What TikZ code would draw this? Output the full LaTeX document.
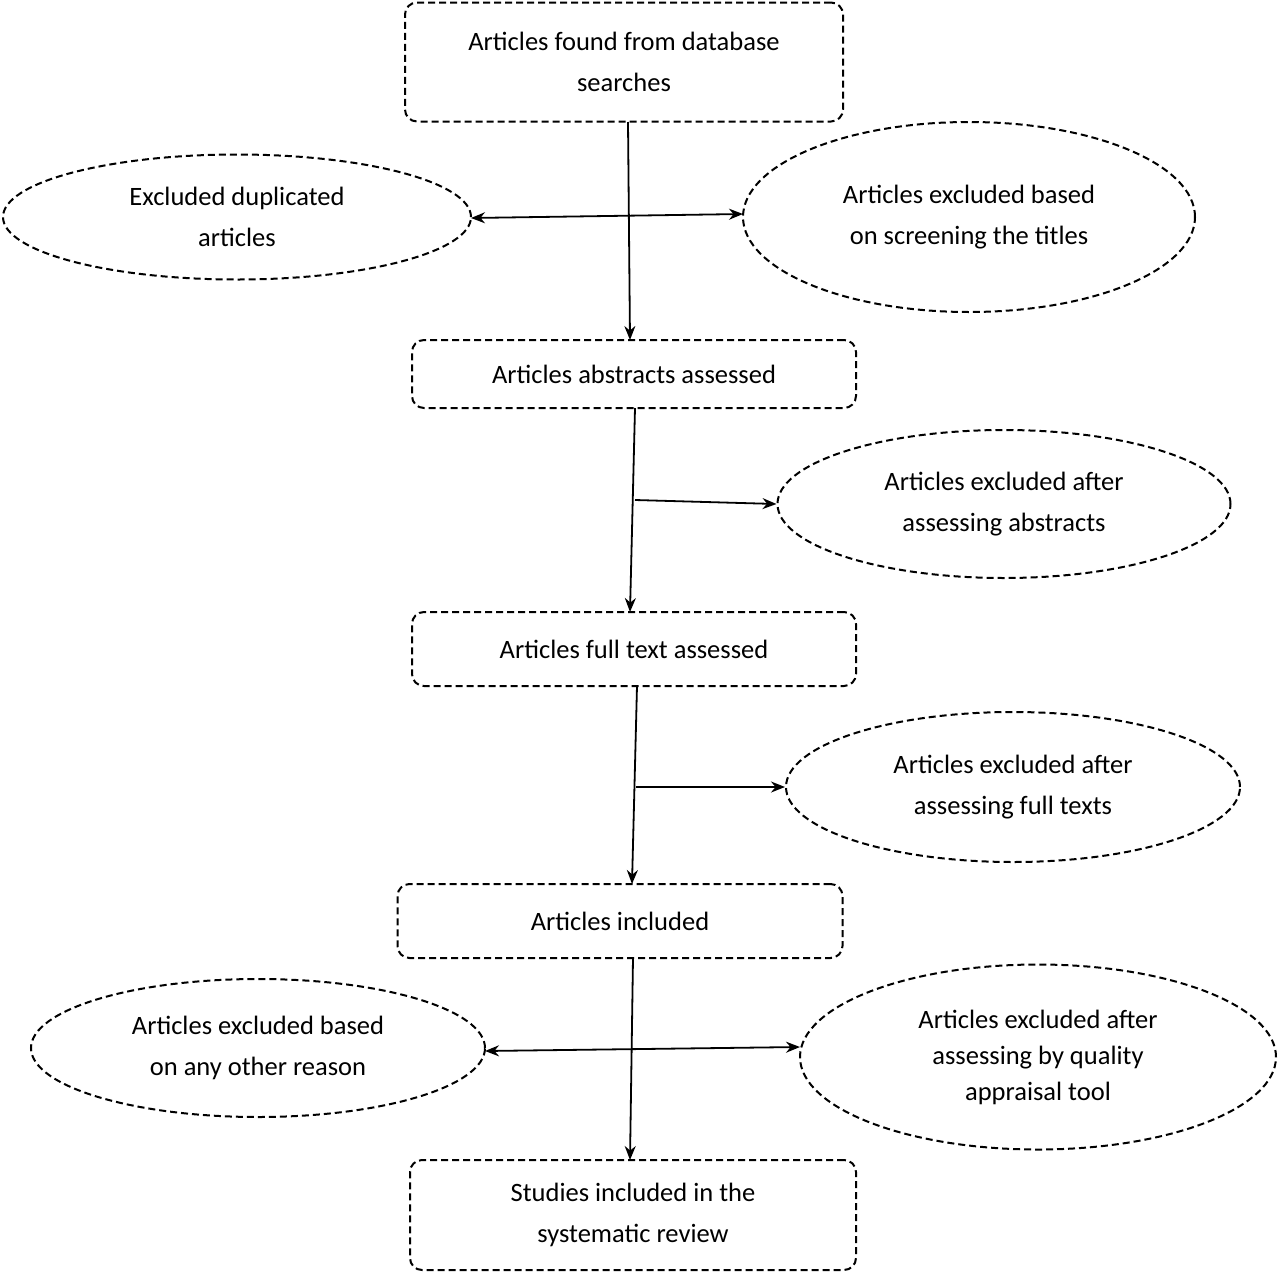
\documentclass[tikz,border=0pt]{standalone}
\usepackage{fontspec}
\setmainfont{Carlito}
\usetikzlibrary{shapes.geometric,arrows.meta}
\begin{document}
\begin{tikzpicture}[x=1pt,y=-1pt,
  every node/.style={font=\fontsize{26.5}{41}\selectfont,align=center,line width=2pt,dash pattern=on 7pt off 4pt,draw,inner sep=0pt},
  box/.style={rounded corners=12pt},
  ell/.style={ellipse},
  arr/.style={-{Stealth[length=14pt,width=11pt]},line width=1.8pt,solid},
  dbl/.style={{Stealth[length=14pt,width=11pt]}-{Stealth[length=14pt,width=11pt]},line width=1.8pt,solid}]
\useasboundingbox (0,0) rectangle (1280,1275);
\node[box,minimum width=438pt,minimum height=119pt] (a) at (624,62) {Articles found from database\\searches};
\node[ell,minimum width=468pt,minimum height=125pt] (b) at (237,217) {Excluded duplicated\\articles};
\node[ell,minimum width=452pt,minimum height=190pt] (c) at (969,217) {Articles excluded based\\on screening the titles};
\node[box,minimum width=444pt,minimum height=68pt] (d) at (634,374) {Articles abstracts assessed};
\node[ell,minimum width=453pt,minimum height=148pt] (e) at (1004,504) {Articles excluded after\\assessing abstracts};
\node[box,minimum width=444pt,minimum height=74pt] (f) at (634,649) {Articles full text assessed};
\node[ell,minimum width=454pt,minimum height=150pt] (g) at (1013,787) {Articles excluded after\\assessing full texts};
\node[box,minimum width=445pt,minimum height=74pt] (h) at (620,921) {Articles included};
\node[ell,minimum width=454pt,minimum height=138pt] (i) at (258,1048) {Articles excluded based\\on any other reason};
\node[ell,minimum width=476pt,minimum height=185pt,font=\fontsize{26.5}{36}\selectfont] (j) at (1038,1057) {Articles excluded after\\assessing by quality\\appraisal tool};
\node[box,minimum width=446pt,minimum height=110pt] (k) at (633,1215) {Studies included in the\\systematic review};
\coordinate (a1) at (628,122); \coordinate (d1) at (630,340);
\draw[arr] (a1) -- (d1);
\coordinate (bl) at (471,218); \coordinate (cr) at (743,214);
\draw[dbl] (bl) -- (cr);
\coordinate (d2) at (635,408); \coordinate (f1) at (630,612);
\draw[arr] (d2) -- (f1);
\coordinate (p1) at (635,500);
\draw[arr] (p1) -- (e.west);
\coordinate (f2) at (637,686); \coordinate (h1) at (632,884);
\draw[arr] (f2) -- (h1);
\coordinate (p2) at (636,787);
\draw[arr] (p2) -- (g.west);
\coordinate (h2) at (633,958); \coordinate (k1) at (630,1160);
\draw[arr] (h2) -- (k1);
\coordinate (il) at (485,1051); \coordinate (jr) at (800,1047);
\draw[dbl] (il) -- (jr);
\end{tikzpicture}
\end{document}
